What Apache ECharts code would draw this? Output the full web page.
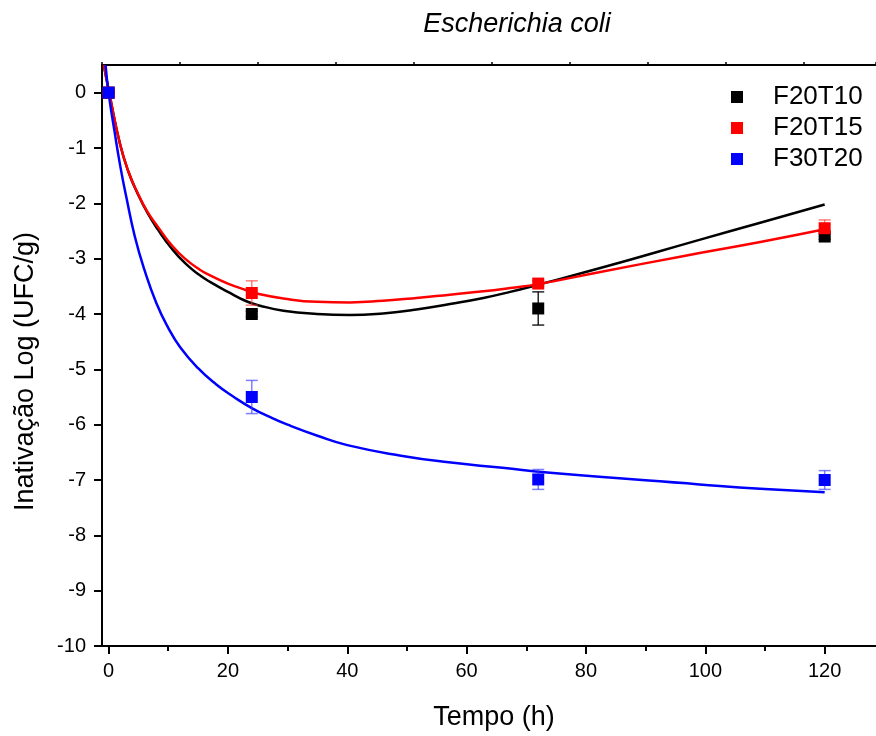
<!DOCTYPE html>
<html>
<head>
<meta charset="utf-8">
<title>Escherichia coli</title>
<script src="https://cdn.jsdelivr.net/npm/echarts@6/dist/echarts.min.js"></script>
<style>
  html, body { margin: 0; padding: 0; background: #fff; }
  #chart { width: 876px; height: 736px; }
</style>
</head>
<body>
<div id="chart"></div>
<script>
// Sampling times (h) of the measured points
const times = [0, 24, 72, 120];

// Measured log inactivation (mean) and standard deviation per formulation
const f20t10Mean = [0, -4.0, -3.9, -2.6];
const f20t10Err  = [0, 0.05, 0.3, 0.05];
const f20t15Mean = [0, -3.62, -3.45, -2.45];
const f20t15Err  = [0, 0.22, 0.05, 0.15];
const f30t20Mean = [0, -5.5, -6.99, -7.0];
const f30t20Err  = [0, 0.3, 0.18, 0.17];

// Fitted model curves, [time, log inactivation]
const f20t10Fit = [[-0.8,0.5],[0.2,-0.05],[1.9,-0.92],[3.3,-1.42],[4.9,-1.83],[6.5,-2.17],[8.3,-2.48],[10.6,-2.82],[13,-3.1],[15.3,-3.3],[17,-3.42],[20,-3.6],[23.1,-3.77],[25.4,-3.85],[29.3,-3.94],[34.9,-4.0],[40.5,-4.02],[46,-3.99],[51.6,-3.92],[57.2,-3.82],[62.8,-3.71],[67.3,-3.6],[72,-3.47],[82.4,-3.17],[99,-2.66],[109.2,-2.35],[120,-2.02]];
const f20t15Fit = [[-0.8,0.5],[0.2,-0.05],[1.9,-0.92],[3.3,-1.42],[4.9,-1.82],[6.5,-2.15],[8.3,-2.43],[10.6,-2.76],[12.8,-3.0],[15.3,-3.2],[17,-3.3],[20,-3.45],[23.1,-3.57],[24.8,-3.63],[29.3,-3.72],[34.9,-3.78],[40.5,-3.79],[46,-3.76],[51.6,-3.71],[57.2,-3.65],[62.8,-3.59],[67.3,-3.53],[72,-3.46],[82.4,-3.24],[96,-2.96],[109.2,-2.7],[120,-2.47]];
const f30t20Fit = [[-0.5,0.5],[0,0.0],[1,-0.7],[2,-1.35],[3,-1.9],[4.4,-2.6],[6,-3.2],[8,-3.8],[10,-4.25],[12,-4.6],[15,-4.98],[18,-5.27],[21,-5.5],[24,-5.7],[27,-5.86],[30,-6.0],[35,-6.2],[40,-6.37],[49,-6.56],[57,-6.68],[66,-6.78],[74,-6.87],[99,-7.08],[109.2,-7.16],[120,-7.22]];

// Axis ticks and labels
const xMajor = [0, 20, 40, 60, 80, 100, 120];
const xMinor = [10, 30, 50, 70, 90, 110];
const yMajor = [0, -1, -2, -3, -4, -5, -6, -7, -8, -9, -10];
const yMinor = [-0.5, -1.5, -2.5, -3.5, -4.5, -5.5, -6.5, -7.5, -8.5, -9.5];

const seriesNames = ['F20T10', 'F20T15', 'F30T20'];
const colors = ['#000000', '#ff0000', '#0000ff'];
const errColors = ['rgba(0,0,0,0.85)', 'rgba(255,60,60,0.65)', 'rgba(60,60,255,0.65)'];

const FONT = 'Liberation Sans, Arial, sans-serif';

function points(mean) { return times.map((t, i) => [t, mean[i]]); }
function errRows(mean, err) { return times.map((t, i) => [t, mean[i], err[i]]); }

function errorBarItem(color) {
  return function (params, api) {
    const x = api.value(0), y = api.value(1), e = api.value(2);
    const hi = api.coord([x, y + e]);
    const lo = api.coord([x, y - e]);
    const hw = 6;
    const style = { stroke: color, lineWidth: 1.5 };
    return {
      type: 'group',
      children: [
        { type: 'line', shape: { x1: hi[0], y1: hi[1], x2: lo[0], y2: lo[1] }, style },
        { type: 'line', shape: { x1: hi[0] - hw, y1: hi[1], x2: hi[0] + hw, y2: hi[1] }, style },
        { type: 'line', shape: { x1: lo[0] - hw, y1: lo[1], x2: lo[0] + hw, y2: lo[1] }, style }
      ]
    };
  };
}

const means = [f20t10Mean, f20t15Mean, f30t20Mean];
const errs = [f20t10Err, f20t15Err, f30t20Err];
const fits = [f20t10Fit, f20t15Fit, f30t20Fit];

const series = [];
// fitted curves
fits.forEach((fit, i) => {
  series.push({
    type: 'line', name: seriesNames[i] + ' fit', data: fit,
    smooth: 0.5, showSymbol: false, symbol: 'none',
    lineStyle: { color: colors[i], width: 2.5 },
    xAxisIndex: 0, yAxisIndex: 0, z: 3, silent: true
  });
});
// error bars
means.forEach((m, i) => {
  series.push({
    type: 'custom', name: seriesNames[i] + ' sd',
    data: errRows(m, errs[i]), renderItem: errorBarItem(errColors[i]),
    xAxisIndex: 0, yAxisIndex: 0, z: 4, silent: true
  });
});
// measured points
means.forEach((m, i) => {
  series.push({
    type: 'scatter', name: seriesNames[i], data: points(m),
    symbol: 'rect', symbolSize: 12,
    itemStyle: { color: colors[i], opacity: 1 },
    xAxisIndex: 0, yAxisIndex: 0, z: 5 + i
  });
});

const axisLineStyle = { color: '#000', width: 2 };

const option = {
  animation: false,
  backgroundColor: '#fff',
  title: {
    text: 'Escherichia coli',
    left: 512, top: 6, textAlign: 'center',
    textStyle: { fontFamily: FONT, fontStyle: 'italic', fontWeight: 'normal', fontSize: 27, color: '#000' }
  },
  legend: {
    data: seriesNames.map(n => ({ name: n, icon: 'rect' })),
    orient: 'vertical', left: 726, top: 79,
    itemWidth: 12, itemHeight: 12, itemGap: 5,
    textStyle: { fontFamily: FONT, fontSize: 26, lineHeight: 26, color: '#000', padding: [0, 0, 0, 25] }
  },
  grid: { left: 102, top: 65, right: 0, bottom: 90, containLabel: false },
  xAxis: [
    {
      type: 'value', position: 'bottom', min: -1.1, max: 128.6,
      name: 'Tempo (h)', nameLocation: 'middle', nameGap: 58,
      nameTextStyle: { fontFamily: FONT, fontSize: 27, color: '#000', padding: [0, 0, 0, 10] },
      axisLine: { show: true, onZero: false, lineStyle: axisLineStyle },
      axisTick: { show: true, customValues: xMajor, length: 8, lineStyle: { color: '#000', width: 2 } },
      axisLabel: { customValues: xMajor, fontFamily: FONT, fontSize: 20, color: '#000', margin: 15 },
      splitLine: { show: false }
    },
    {
      type: 'value', position: 'bottom', min: -1.1, max: 128.6,
      axisLine: { show: false, onZero: false },
      axisTick: { show: true, customValues: xMinor, length: 5, lineStyle: { color: '#000', width: 2 } },
      axisLabel: { show: false },
      splitLine: { show: false }
    },
    {
      type: 'value', position: 'top', min: 0, max: 9.92, interval: 1,
      axisLine: { show: true, onZero: false, lineStyle: axisLineStyle },
      axisTick: { show: true, length: 3, lineStyle: { color: '#000', width: 1.5 } },
      axisLabel: { show: false },
      splitLine: { show: false }
    }
  ],
  yAxis: [
    {
      type: 'value', min: -10, max: 0.5,
      name: 'Inativação Log (UFC/g)', nameLocation: 'middle', nameGap: 63,
      nameTextStyle: { fontFamily: FONT, fontSize: 27, color: '#000', padding: [0, 32, 0, 0] },
      axisLine: { show: true, onZero: false, lineStyle: axisLineStyle },
      axisTick: { show: true, customValues: yMajor, length: 8, lineStyle: { color: '#000', width: 2 } },
      axisLabel: { customValues: yMajor, fontFamily: FONT, fontSize: 20, color: '#000', margin: 16 },
      splitLine: { show: false }
    },
    {
      type: 'value', min: -10, max: 0.5,
      axisLine: { show: false, onZero: false },
      axisTick: { show: true, customValues: yMinor, length: 5, lineStyle: { color: '#000', width: 2 } },
      axisLabel: { show: false },
      splitLine: { show: false }
    }
  ],
  series: series
};

const chart = echarts.init(document.getElementById('chart'), null, { renderer: 'canvas' });
chart.setOption(option);
</script>
</body>
</html>
